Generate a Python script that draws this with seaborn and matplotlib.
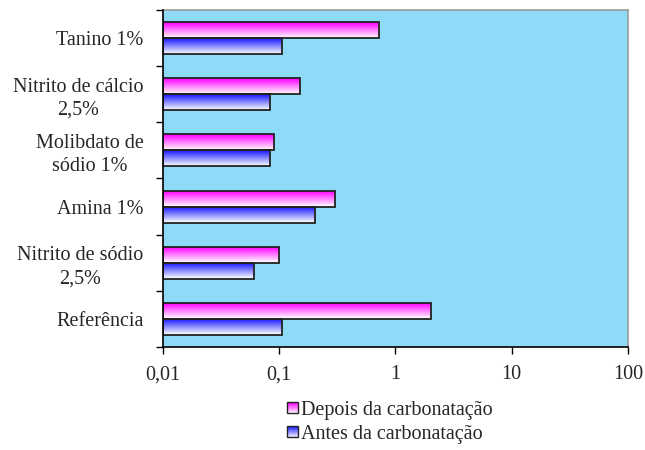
import numpy as np
import pandas as pd
import matplotlib
matplotlib.use("Agg")
import matplotlib.pyplot as plt
from matplotlib.colors import to_rgb
from matplotlib.patches import Rectangle
from matplotlib.legend_handler import HandlerBase
import seaborn as sns

categories = ["Tanino 1%", "Nitrito de cálcio\n2,5%", "Molibdato de\nsódio 1%",
              "Amina 1%", "Nitrito de sódio\n2,5%", "Referência"]
depois = [0.72, 0.15, 0.09, 0.30, 0.10, 2.02]
antes = [0.105, 0.083, 0.083, 0.205, 0.061, 0.105]
series_names = ["Depois da carbonatação", "Antes da carbonatação"]
x_ticks = [0.01, 0.1, 1, 10, 100]
x_ticklabels = ["0,01", "0,1", "1", "10", "100"]

df = pd.DataFrame({
    "categoria": categories * 2,
    "valor": depois + antes,
    "serie": [series_names[0]] * len(categories) + [series_names[1]] * len(categories),
})

sns.set_style("white")
plt.rcParams["font.family"] = ["Liberation Serif", "DejaVu Serif"]
FS = 14.5

top_colors = {series_names[0]: "#FF00FF", series_names[1]: "#1A1AFF"}
N_STRIPS = 32


def gradient_colors(top, n):
    """Colours running from `top` (first) down to white (last)."""
    t = np.array(to_rgb(top))
    w = np.ones(3)
    return [tuple(t + (w - t) * k / (n - 1)) for k in range(n)]


fig = plt.figure(figsize=(6.45, 4.5), dpi=100)
ax = fig.add_axes([0.2527, 0.2289, 0.7209, 0.7489])
ax.set_facecolor("#8EDBF7")

sns.barplot(data=df, y="categoria", x="valor", hue="serie", order=categories,
            hue_order=series_names, orient="h", width=0.57, ax=ax,
            palette=["#FFFFFF", "#FFFFFF"], edgecolor="#222222", linewidth=1.3,
            legend=False, log_scale=(True, False))

XMIN, XMAX = 0.01, 100
ax.set_xlim(XMIN, XMAX)
ax.set_ylim(len(categories) - 0.5, -0.5)

# bars start at the left edge of the log axis; fill each with a vertical
# gradient made of thin horizontal strips, top colour down to white
for container, name in zip(ax.containers, series_names):
    cols = gradient_colors(top_colors[name], N_STRIPS)
    for bar in container:
        x1 = bar.get_x() + bar.get_width()
        bar.set_x(XMIN)
        bar.set_width(x1 - XMIN)
        y_top, h = bar.get_y(), bar.get_height()  # inverted y: get_y() is the visual top
        dh = h / N_STRIPS
        for k, c in enumerate(cols):
            ax.add_patch(Rectangle((XMIN, y_top + k * dh), x1 - XMIN, dh * 1.05,
                                   facecolor=c, edgecolor="none", zorder=1.5))
        bar.set_facecolor("none")
        bar.set_zorder(2)

ax.set_xticks(x_ticks)
ax.set_xticklabels(x_ticklabels, fontsize=FS)
ax.xaxis.set_minor_locator(matplotlib.ticker.NullLocator())

# category labels at group centres, tick marks on the group boundaries
ax.set_yticks(np.arange(len(categories)))
ax.set_yticklabels(categories, fontsize=FS, ha="right", multialignment="center",
                   linespacing=1.3)
ax.tick_params(axis="y", length=0, pad=14)
ax.set_yticks(np.arange(-0.5, len(categories)), minor=True)
ax.tick_params(axis="y", which="minor", length=5, width=1, color="black",
               direction="out", left=True)
ax.tick_params(axis="x", length=5, width=1, color="black", direction="out",
               bottom=True, pad=8)

ax.set_xlabel("")
ax.set_ylabel("")
for side in ["left", "bottom"]:
    ax.spines[side].set_color("black")
    ax.spines[side].set_linewidth(1.2)
    ax.spines[side].set_zorder(3)
for side in ["top", "right"]:
    ax.spines[side].set_visible(True)
    ax.spines[side].set_color("#999999")
    ax.spines[side].set_linewidth(1.2)


class GradientSwatch(HandlerBase):
    def __init__(self, top):
        super().__init__()
        self.top = top

    def create_artists(self, legend, orig_handle, xdescent, ydescent, width, height,
                       fontsize, trans):
        n = 12
        side = min(width, height)
        x = -xdescent
        y = -ydescent + (height - side) / 2
        arts = []
        for k, c in enumerate(gradient_colors(self.top, n)):
            arts.append(Rectangle((x, y + side - (k + 1) * side / n), side, side / n * 1.05,
                                  facecolor=c, edgecolor="none", transform=trans))
        arts.append(Rectangle((x, y), side, side, facecolor="none",
                              edgecolor="#222222", linewidth=1, transform=trans))
        return arts


handles = [Rectangle((0, 0), 1, 1) for _ in series_names]
fig.legend(handles, series_names, loc="center", bbox_to_anchor=(0.604, 0.061),
           frameon=False, fontsize=FS, handlelength=0.55, handleheight=0.55,
           handletextpad=0.15, labelspacing=0.25,
           handler_map={h: GradientSwatch(top_colors[n]) for h, n in zip(handles, series_names)})

fig.savefig("out.png", dpi=100, facecolor="white")
